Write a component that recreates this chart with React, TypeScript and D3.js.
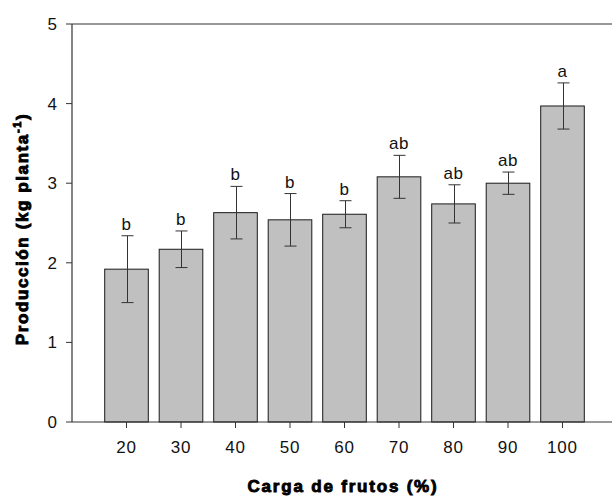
import React from "react";
import * as d3 from "d3";

// Fruit load treatments (%), mean yield, and standard error
const cargas = [20, 30, 40, 50, 60, 70, 80, 90, 100];
const produccion = [1.92, 2.17, 2.63, 2.54, 2.61, 3.08, 2.74, 3.0, 3.97];
const errorEst = [0.42, 0.23, 0.33, 0.33, 0.17, 0.27, 0.24, 0.14, 0.29];
const letras = ["b", "b", "b", "b", "b", "ab", "ab", "ab", "a"];
const yTicks = [0, 1, 2, 3, 4, 5];

const W = 612;
const H = 496;
const left = 72;
const right = 617;
const top = 24;
const bottom = 422;
const barUnits = 8;
const capHalf = 6;
const font = "'Liberation Sans', Arial, sans-serif";

export default function App() {
  const x = d3.scaleLinear().domain([10, 110]).range([left, right]);
  const y = d3.scaleLinear().domain([0, 5]).range([bottom, top]);
  const bw = x(barUnits) - x(0);
  const axisColor = "#333";

  return (
    <svg
      width={W}
      height={H}
      style={{ position: "absolute", left: 0, top: 0, background: "#fff" }}
    >
      {/* bars */}
      {cargas.map((c, i) => (
        <rect
          key={"bar" + c}
          x={x(c) - bw / 2}
          y={y(produccion[i])}
          width={bw}
          height={y(0) - y(produccion[i])}
          fill="#c0c0c0"
          stroke="#1a1a1a"
          strokeWidth={1}
        />
      ))}
      {/* error bars */}
      {cargas.map((c, i) => {
        const hi = y(produccion[i] + errorEst[i]);
        const lo = y(produccion[i] - errorEst[i]);
        const cx = Math.round(x(c)) + 0.5;
        return (
          <g key={"err" + c} stroke="#333" strokeWidth={1}>
            <line x1={cx} x2={cx} y1={hi} y2={lo} />
            <line x1={cx - capHalf} x2={cx + capHalf} y1={hi} y2={hi} />
            <line x1={cx - capHalf} x2={cx + capHalf} y1={lo} y2={lo} />
          </g>
        );
      })}
      {/* significance letters */}
      {cargas.map((c, i) => (
        <text
          key={"let" + c}
          x={x(c)}
          y={y(produccion[i] + errorEst[i]) - 6}
          textAnchor="middle"
          fontFamily={font}
          fontSize={17}
          letterSpacing={0.5}
          fill="#111"
        >
          {letras[i]}
        </text>
      ))}
      {/* frame */}
      <g stroke={axisColor} strokeWidth={1.2} fill="none">
        <line x1={left} x2={left} y1={top} y2={bottom} />
        <line x1={left} x2={right} y1={bottom} y2={bottom} />
        <line x1={left} x2={right} y1={top} y2={top} />
        <line x1={right} x2={right} y1={top} y2={bottom} />
      </g>
      {/* y axis ticks */}
      {yTicks.map((t) => (
        <g key={"yt" + t}>
          <line x1={left - 6} x2={left} y1={y(t)} y2={y(t)} stroke={axisColor} strokeWidth={1} />
          <text
            x={left - 15}
            y={y(t)}
            dy="0.35em"
            textAnchor="end"
            fontFamily={font}
            fontSize={17}
            fill="#111"
          >
            {t}
          </text>
        </g>
      ))}
      {/* x axis ticks */}
      {cargas.map((c) => (
        <g key={"xt" + c}>
          <line x1={x(c)} x2={x(c)} y1={bottom} y2={bottom + 6} stroke={axisColor} strokeWidth={1} />
          <text
            x={x(c)}
            y={bottom + 31}
            textAnchor="middle"
            fontFamily={font}
            fontSize={17}
            letterSpacing={0.8}
            fill="#111"
          >
            {c}
          </text>
        </g>
      ))}
      {/* axis titles */}
      <text
        x={343}
        y={492}
        textAnchor="middle"
        fontFamily={font}
        fontWeight="bold"
        fontSize={17}
        fill="#000"
        stroke="#000"
        strokeWidth={0.9}
        letterSpacing={1.8}
      >
        Carga de frutos (%)
      </text>
      <text
        transform={`translate(28,${(top + bottom) / 2 + 6}) rotate(-90)`}
        textAnchor="middle"
        fontFamily={font}
        fontWeight="bold"
        fontSize={17}
        fill="#000"
        stroke="#000"
        strokeWidth={0.9}
        letterSpacing={1.6}
      >
        Producción (kg planta
        <tspan dy={-7} fontSize={11}>-1</tspan>
        <tspan dy={7}>)</tspan>
      </text>
    </svg>
  );
}
